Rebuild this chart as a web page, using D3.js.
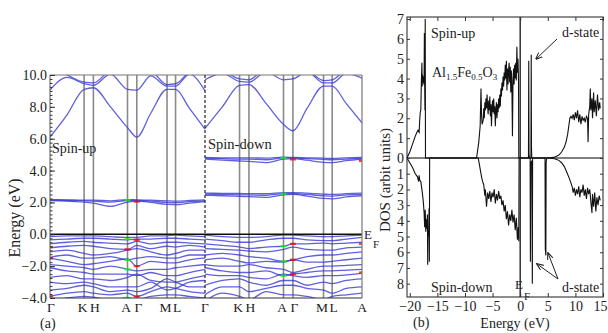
<!DOCTYPE html>
<html><head><meta charset="utf-8">
<script src="https://cdn.jsdelivr.net/npm/d3@7/dist/d3.min.js"></script>
<style>
body{margin:0;background:#fff}
svg{display:block}
text{font-family:"Liberation Serif","Times New Roman",serif;fill:#222}
</style>
</head><body>
<svg id="c" width="608" height="333"></svg>
<script>
// ---------------- DATA ----------------
// k-path sample points (fraction of each panel's path)
const kpts = [0, 0.11, 0.22, 0.28, 0.39, 0.50, 0.56, 0.65, 0.755, 0.81, 0.90, 1.0];
const symPos = [0, 0.22, 0.28, 0.50, 0.56, 0.755, 0.81, 1.0];
const symLabelsUp = ["Γ", "K", "H", "A", "Γ", "M", "L", "Γ"];
const symLabelsDown = ["", "K", "H", "A", "Γ", "M", "L", "A"];
const yTicksA = [-4, -2, 0, 2, 4, 6, 8, 10];

// Spin-up bands (eV)
const upCond = [
  [6.1, 7.5, 9.1, 9.2, 8.0, 6.7, 6.1, 7.6, 9.1, 9.1, 7.9, 6.6],
  [9.05, 9.85, 9.45, 9.35, 10.05, 9.1, 9.05, 9.95, 9.3, 9.3, 10.05, 9.0],
  [10.5, 10.0, 9.55, 9.5, 10.3, 10.5, 10.5, 10.3, 9.4, 9.45, 10.2, 10.5]
];
const upImp = [
  [2.12, 2.08, 2.02, 1.95, 1.75, 2.02, 2.08, 2.0, 1.88, 1.85, 1.95, 2.05],
  [2.15, 2.12, 2.1, 2.08, 2.02, 2.12, 2.12, 2.08, 2.0, 1.98, 2.05, 2.1],
  [2.18, 2.16, 2.14, 2.14, 2.1, 2.18, 2.16, 2.14, 2.1, 2.08, 2.12, 2.16]
];
const upVal = [
  [-0.15, -0.1, -0.1, -0.1, -0.15, -0.2, -0.2, -0.1, -0.1, -0.05, -0.1, -0.15],
  [-0.35, -0.3, -0.25, -0.25, -0.3, -0.35, -0.3, -0.3, -0.25, -0.25, -0.3, -0.35],
  [-0.6, -0.5, -0.45, -0.5, -0.55, -0.6, -0.45, -0.6, -0.5, -0.5, -0.55, -0.6],
  [-0.85, -0.75, -0.7, -0.75, -0.9, -0.95, -0.7, -0.9, -0.75, -0.8, -0.7, -0.8],
  [-1.1, -1.0, -1.2, -1.3, -1.2, -1.0, -0.9, -1.1, -1.3, -1.2, -1.0, -1.0],
  [-1.45, -1.3, -1.5, -1.5, -1.4, -1.6, -1.5, -1.4, -1.5, -1.5, -1.3, -1.3],
  [-1.5, -1.7, -1.9, -1.85, -1.7, -1.55, -2.0, -1.7, -1.8, -1.8, -1.6, -1.5],
  [-1.9, -2.0, -2.1, -2.2, -2.0, -2.2, -2.3, -2.2, -2.2, -2.1, -2.0, -1.9],
  [-2.1, -2.3, -2.4, -2.5, -2.5, -2.5, -2.6, -2.4, -2.6, -2.6, -2.4, -2.2],
  [-2.7, -2.6, -2.8, -2.8, -2.9, -2.7, -2.5, -2.9, -3.0, -3.0, -2.8, -2.6],
  [-3.0, -3.1, -3.0, -3.1, -3.3, -3.3, -3.3, -3.0, -3.5, -3.4, -3.0, -2.9],
  [-3.5, -3.4, -3.2, -3.3, -3.6, -3.5, -3.6, -3.4, -2.8, -3.0, -3.3, -3.3],
  [-3.9, -3.7, -3.6, -3.7, -3.8, -3.7, -3.9, -3.6, -3.3, -3.4, -3.6, -3.7],
  [-4.2, -4.0, -3.9, -3.95, -4.1, -4.0, -4.1, -3.9, -3.8, -3.8, -3.9, -4.0]
];

// Spin-down bands (eV)
const dnCond = [
  [6.65, 8.0, 9.35, 9.4, 8.2, 6.9, 6.5, 7.9, 9.3, 9.3, 8.2, 7.0],
  [9.7, 10.1, 9.6, 9.55, 10.2, 9.7, 9.75, 10.2, 9.5, 9.5, 10.1, 9.8],
  [10.5, 10.3, 9.75, 9.7, 10.4, 10.4, 10.4, 10.3, 9.65, 9.7, 10.3, 10.4]
];
const dnImp = [
  [4.72, 4.65, 4.6, 4.58, 4.5, 4.72, 4.75, 4.65, 4.52, 4.5, 4.62, 4.7],
  [4.78, 4.75, 4.72, 4.72, 4.68, 4.8, 4.8, 4.75, 4.7, 4.68, 4.72, 4.76],
  [4.82, 4.8, 4.8, 4.8, 4.78, 4.85, 4.82, 4.8, 4.78, 4.76, 4.8, 4.82],
  [2.45, 2.42, 2.38, 2.36, 2.32, 2.48, 2.5, 2.4, 2.25, 2.22, 2.35, 2.42],
  [2.52, 2.5, 2.48, 2.47, 2.45, 2.55, 2.56, 2.5, 2.42, 2.4, 2.47, 2.5],
  [2.58, 2.57, 2.56, 2.55, 2.55, 2.62, 2.62, 2.58, 2.52, 2.5, 2.55, 2.58]
];
const dnVal = [
  [-0.05, -0.15, -0.2, -0.2, -0.15, -0.05, -0.05, -0.1, -0.15, -0.15, -0.1, -0.05],
  [-0.3, -0.4, -0.5, -0.5, -0.35, -0.25, -0.25, -0.35, -0.4, -0.4, -0.3, -0.2],
  [-0.6, -0.7, -0.8, -0.9, -0.8, -0.75, -0.6, -0.6, -0.55, -0.6, -0.55, -0.5],
  [-0.9, -0.95, -1.0, -1.05, -1.1, -0.95, -0.8, -0.95, -1.0, -1.0, -0.85, -0.8],
  [-1.3, -1.2, -1.3, -1.4, -1.5, -1.7, -1.6, -1.4, -1.3, -1.3, -1.2, -1.1],
  [-1.6, -1.5, -1.7, -1.8, -1.7, -1.75, -1.6, -1.75, -1.75, -1.7, -1.6, -1.5],
  [-1.9, -2.0, -2.0, -1.9, -2.1, -2.2, -2.4, -2.2, -2.0, -2.0, -1.95, -1.9],
  [-2.1, -2.3, -2.4, -2.4, -2.3, -2.6, -2.5, -2.4, -2.3, -2.3, -2.25, -2.2],
  [-2.5, -2.6, -2.6, -2.7, -2.8, -2.5, -2.6, -2.7, -2.6, -2.6, -2.55, -2.45],
  [-3.2, -2.9, -2.8, -3.0, -3.2, -2.9, -2.9, -3.2, -3.0, -3.1, -2.9, -2.8],
  [-3.8, -3.3, -3.3, -3.6, -3.4, -3.2, -3.2, -3.4, -3.5, -3.7, -3.4, -3.3],
  [-4.2, -3.7, -3.9, -4.1, -3.6, -3.8, -3.8, -3.9, -4.1, -3.9, -3.8, -3.7]
];

// coloured projection markers: [k, E, colour]
const upMarks = [[0, -0.8, "red"], [0, -1.5, "red"], [0, -3.9, "red"], [0.5, -0.3, "lime"], [0.56, -0.35, "red"],
  [0.5, -0.95, "red"], [0.5, -1.6, "lime"], [0.56, -2.0, "red"], [0.5, -2.2, "lime"], [0.56, -3.9, "red"],
  [0.5, -4.0, "lime"], [0.5, 2.15, "lime"], [0.56, 2.05, "red"]];
const dnMarks = [[0.5, -0.75, "lime"], [0.56, -0.6, "red"], [0.56, -1.6, "red"], [0.5, -1.7, "lime"],
  [0.56, -2.5, "red"], [0.5, -2.6, "lime"], [1.0, -0.6, "red"], [1.0, -2.4, "red"], [0.5, 4.8, "lime"],
  [0.56, 4.7, "red"], [1.0, 4.6, "red"], [0.5, 2.55, "lime"]];

// DOS (b)
const dosXTicks = [-20, -15, -10, -5, 0, 5, 10, 15];
const dosUpTicks = [0, 1, 2, 3, 4, 5, 6, 7];
const dosDnTicks = [1, 2, 3, 4, 5, 6, 7, 8];

const dosUpE = [-20.5, -20.0, -19.5, -19.0, -18.7, -18.5, -18.3, -18.2, -18.1, -18.0, -17.9, -17.8, -17.75, -17.7, -17.6, -17.5, -17.45, -17.4, -17.35, -17.3, -17.25, -17.2, -17.15,
  -7.9, -7.5, -7.25, -7.1, -7.0, -6.9, -6.7, -6.6, -6.5, -6.4, -6.3, -6.2, -6.1, -6.0, -5.9, -5.8, -5.7, -5.6, -5.5, -5.4, -5.3, -5.2, -5.1, -5.0, -4.9, -4.8, -4.7, -4.6, -4.5, -4.4, -4.3, -4.2, -4.1, -4.0, -3.9, -3.8, -3.7, -3.6, -3.5, -3.4, -3.3, -3.2, -3.1, -3.0, -2.9, -2.8, -2.7, -2.6, -2.5, -2.4, -2.3, -2.2, -2.1, -2.0, -1.9, -1.8, -1.7, -1.6, -1.5, -1.4, -1.3, -1.2, -1.1, -1.0, -0.9, -0.8, -0.7, -0.6, -0.5, -0.4, -0.3, -0.25,
  1.5, 1.55, 1.6, 1.7, 1.95, 2.0, 2.05, 2.1,
  5.0, 6.0, 6.5, 7.0, 7.5, 8.0, 8.3, 8.6, 8.8, 9.0, 9.2, 9.4, 9.6, 9.8, 10.0, 10.2, 10.4, 10.6, 10.8, 11.0, 11.2, 11.4, 11.6, 11.8, 12.0, 12.2, 12.3, 12.4, 12.6, 12.7, 12.8, 13.0, 13.1, 13.3, 13.4, 13.6, 13.8, 14.0, 14.2, 14.4, 14.5];
const dosUpV = [0, 0.3, 0.7, 1.1, 1.3, 1.4, 1.3, 1.9, 2.3, 2.4, 3.8, 4.8, 3.6, 4.2, 3.8, 4.1, 3.7, 4.2, 6.3, 3.8, 2.4, 7.0, 0,
  0, 0.8, 1.6, 3.5, 2.2, 1.7, 1.9, 2.5, 2.0, 2.8, 2.4, 3.0, 2.5, 3.2, 2.6, 2.2, 2.9, 2.4, 3.1, 2.1, 2.7, 1.6, 2.5, 2.9, 2.3, 3.0, 2.2, 2.6, 1.6, 2.4, 2.8, 2.0, 2.7, 2.3, 3.0, 2.5, 3.2, 2.6, 3.5, 3.1, 3.8, 3.4, 4.1, 3.6, 4.3, 3.9, 4.7, 4.0, 4.9, 3.4, 4.5, 3.7, 4.4, 4.8, 3.8, 4.6, 3.3, 4.4, 3.6, 1.1, 3.9, 4.5, 3.7, 4.7, 4.0, 4.8, 3.9, 5.6, 4.3, 5.0, 3.9, 0,
  0, 4.9, 0.2, 0, 0, 5.2, 0.5, 0,
  0, 0.03, 0.08, 0.15, 0.3, 0.55, 0.8, 1.2, 1.6, 2.0, 2.1, 2.0, 2.2, 1.9, 2.3, 2.0, 2.4, 1.8, 2.2, 1.7, 2.1, 1.9, 2.0, 1.8, 2.1, 2.0, 0.8, 2.2, 2.6, 3.5, 2.4, 3.0, 2.0, 3.3, 2.3, 2.9, 2.1, 3.2, 2.4, 2.8, 2.5];

const dosDnE = [-20.5, -20.0, -19.5, -19.0, -18.6, -18.4, -18.3, -18.2, -18.0, -17.8, -17.6, -17.5, -17.4, -17.3, -17.2, -17.1, -17.0, -16.9, -16.8, -16.75, -16.7, -16.6, -16.5, -16.45, -16.4,
  -7.6, -7.3, -7.0, -6.8, -6.6, -6.4, -6.3, -6.1, -5.9, -5.7, -5.5, -5.3, -5.1, -4.9, -4.7, -4.5, -4.3, -4.1, -3.9, -3.7, -3.5, -3.3, -3.1, -2.9, -2.7, -2.5, -2.3, -2.1, -1.9, -1.7, -1.5, -1.3, -1.1, -0.9, -0.7, -0.5, -0.35, -0.25, -0.2,
  1.8, 1.85, 1.9, 2.1, 2.2, 2.25, 4.5, 4.55, 4.65, 4.7, 4.8,
  5.0, 6.0, 6.5, 7.0, 7.5, 8.0, 8.5, 8.9, 9.2, 9.4, 9.6, 9.8, 10.0, 10.2, 10.4, 10.6, 10.8, 11.0, 11.2, 11.4, 11.6, 11.8, 12.0, 12.2, 12.4, 12.6, 12.8, 13.0, 13.1, 13.3, 13.5, 13.7, 13.9, 14.1, 14.3, 14.5];
const dosDnV = [0, 0.3, 0.6, 1.0, 1.2, 1.5, 1.1, 1.4, 1.5, 2.0, 2.6, 3.0, 3.5, 4.4, 3.3, 4.7, 3.9, 4.5, 3.6, 6.8, 4.6, 5.0, 3.2, 6.6, 0,
  0, 0.6, 1.2, 1.5, 1.7, 2.4, 2.0, 3.1, 2.2, 2.6, 2.1, 2.8, 2.2, 2.5, 2.0, 2.9, 2.3, 2.7, 2.1, 2.6, 2.4, 3.0, 2.7, 3.4, 3.0, 3.9, 3.4, 4.3, 3.6, 4.0, 3.3, 4.1, 3.6, 4.6, 3.8, 5.2, 4.4, 5.3, 0,
  0, 6.6, 0.3, 0.2, 8.0, 0, 0, 5.8, 6.2, 0.3, 0,
  0, 0.03, 0.08, 0.15, 0.3, 0.55, 0.95, 1.3, 1.6, 1.8, 2.2, 1.9, 2.4, 2.0, 2.3, 1.8, 2.5, 2.0, 2.2, 1.7, 2.4, 2.0, 2.6, 1.9, 2.3, 2.0, 2.8, 3.5, 2.3, 3.1, 2.2, 3.4, 2.5, 3.0, 2.4, 2.7];

// ---------------- DRAWING ----------------
const svg = d3.select("#c");

// ======== Panel (a): band structure ========
const yA = d3.scaleLinear().domain([-4, 10]).range([298, 75]);
const xUp = d3.scaleLinear().domain([0, 1]).range([50, 205]);
const xDn = d3.scaleLinear().domain([0, 1]).range([205, 362]);

svg.append("defs").append("clipPath").attr("id", "clipA")
  .append("rect").attr("x", 50).attr("y", 75).attr("width", 312).attr("height", 223);

const gA = svg.append("g");
const plotA = gA.append("g").attr("clip-path", "url(#clipA)");

// high-symmetry verticals
[xUp, xDn].forEach(xs => {
  symPos.slice(1, 7).forEach(p => {
    plotA.append("line").attr("x1", xs(p)).attr("x2", xs(p)).attr("y1", 75).attr("y2", 298)
      .attr("stroke", "#8a8a8a").attr("stroke-width", 1.6);
  });
});

function drawBands(bands, xs) {
  const line = d3.line().x((d, i) => xs(kpts[i])).y(d => yA(d)).curve(d3.curveMonotoneX);
  bands.forEach(b => {
    plotA.append("path").attr("d", line(b)).attr("fill", "none")
      .attr("stroke", "#3838d4").attr("stroke-width", 1.3).attr("stroke-opacity", 0.8);
  });
}
drawBands(upCond, xUp); drawBands(upImp, xUp); drawBands(upVal, xUp);
drawBands(dnCond, xDn); drawBands(dnImp, xDn); drawBands(dnVal, xDn);

function drawMarks(marks, xs) {
  marks.forEach(m => {
    plotA.append("rect").attr("x", xs(m[0]) - 3).attr("y", yA(m[1]) - 1.1)
      .attr("width", 6).attr("height", 2.2).attr("fill", m[2]).attr("opacity", 0.75);
  });
}
drawMarks(upMarks, xUp); drawMarks(dnMarks, xDn);

// Fermi level
gA.append("line").attr("x1", 50).attr("x2", 362).attr("y1", yA(0)).attr("y2", yA(0))
  .attr("stroke", "#111").attr("stroke-width", 1.6);
// frame
gA.append("line").attr("x1", 50).attr("x2", 362).attr("y1", 75).attr("y2", 75).attr("stroke", "#777").attr("stroke-width", 1.2);
gA.append("line").attr("x1", 50).attr("x2", 362).attr("y1", 298).attr("y2", 298).attr("stroke", "#333").attr("stroke-width", 1.2);
gA.append("line").attr("x1", 362).attr("x2", 362).attr("y1", 75).attr("y2", 298).attr("stroke", "#777").attr("stroke-width", 1.2);
gA.append("line").attr("x1", 205).attr("x2", 205).attr("y1", 75).attr("y2", 298)
  .attr("stroke", "#222").attr("stroke-width", 1.2).attr("stroke-dasharray", "3,2");
gA.append("line").attr("x1", 50).attr("x2", 50).attr("y1", 75).attr("y2", 298).attr("stroke", "#555").attr("stroke-width", 1);

// y axis
const axA = gA.append("g").attr("transform", "translate(50,0)")
  .call(d3.axisLeft(yA).tickValues(yTicksA).tickFormat(d3.format(".1f")).tickSizeInner(-5).tickSizeOuter(0).tickPadding(3));
axA.select(".domain").remove();
axA.selectAll("text").attr("font-size", 14).attr("font-family", "Liberation Serif").attr("fill", "#222");
axA.selectAll("line").attr("stroke", "#333");
const axAm = gA.append("g").attr("transform", "translate(50,0)")
  .call(d3.axisLeft(yA).tickValues(d3.range(-4, 10.001, 0.25)).tickFormat("").tickSizeInner(-2.5).tickSizeOuter(0));
axAm.select(".domain").remove();
axAm.selectAll("line").attr("stroke", "#333");

// k labels (small nudges keep close pairs apart)
const nudge = [1, -1.5, 1.5, -1.5, 1.5, -1.5, 1.5, 0];
symPos.forEach((p, i) => {
  gA.append("text").attr("x", xUp(p) + nudge[i]).attr("y", 312).attr("text-anchor", "middle")
    .attr("font-size", 13.5).text(symLabelsUp[i]);
  if (symLabelsDown[i]) gA.append("text").attr("x", xDn(p) + nudge[i]).attr("y", 312).attr("text-anchor", "middle")
    .attr("font-size", 13.5).text(symLabelsDown[i]);
});

gA.append("text").attr("transform", "translate(20,218) rotate(-90)").attr("text-anchor", "middle")
  .attr("font-size", 16).text("Energy (eV)");
gA.append("text").attr("x", 52).attr("y", 153).attr("font-size", 14).text("Spin-up");
gA.append("text").attr("x", 208).attr("y", 149).attr("font-size", 14.5).text("Spin-down");
gA.append("text").attr("x", 364).attr("y", 239).attr("font-size", 13).text("E");
gA.append("text").attr("x", 373).attr("y", 248).attr("font-size", 11).text("F");
gA.append("text").attr("x", 40).attr("y", 328).attr("font-size", 14).text("(a)");

// ======== Panel (b): DOS ========
const xB = d3.scaleLinear().domain([-20.5, 15]).range([407, 603]);
const yUp = d3.scaleLinear().domain([0, 7.1]).range([158, 17]);
const yDn = d3.scaleLinear().domain([0, 8.85]).range([158, 297]);
const gB = svg.append("g");

gB.append("rect").attr("x", 407).attr("y", 17).attr("width", 196).attr("height", 280)
  .attr("fill", "none").attr("stroke", "#444").attr("stroke-width", 1.2);
gB.append("line").attr("x1", 407).attr("x2", 603).attr("y1", yUp(0)).attr("y2", yUp(0))
  .attr("stroke", "#555").attr("stroke-width", 1.6);
gB.append("line").attr("x1", xB(0)).attr("x2", xB(0)).attr("y1", 17).attr("y2", 297)
  .attr("stroke", "#111").attr("stroke-width", 1.3);

const lineUp = d3.line().x((d, i) => xB(dosUpE[i])).y(d => yUp(d));
const lineDn = d3.line().x((d, i) => xB(dosDnE[i])).y(d => yDn(d));
gB.append("path").attr("d", lineUp(dosUpV)).attr("fill", "none").attr("stroke", "#111").attr("stroke-width", 1.1);
gB.append("path").attr("d", lineDn(dosDnV)).attr("fill", "none").attr("stroke", "#111").attr("stroke-width", 1.1);

function styleAxis(g) {
  g.select(".domain").remove();
  g.selectAll("text").attr("font-size", 14).attr("font-family", "Liberation Serif").attr("fill", "#222");
  g.selectAll("line").attr("stroke", "#333");
  return g;
}
styleAxis(gB.append("g").attr("transform", "translate(407,0)")
  .call(d3.axisLeft(yUp).tickValues(dosUpTicks).tickFormat(d3.format("d")).tickSizeInner(-3).tickSizeOuter(0).tickPadding(3)));
styleAxis(gB.append("g").attr("transform", "translate(407,0)")
  .call(d3.axisLeft(yDn).tickValues(dosDnTicks).tickFormat(d3.format("d")).tickSizeInner(-3).tickSizeOuter(0).tickPadding(3)));
styleAxis(gB.append("g").attr("transform", "translate(603,0)")
  .call(d3.axisRight(yUp).tickValues(dosUpTicks).tickFormat("").tickSizeInner(-3).tickSizeOuter(0)));
styleAxis(gB.append("g").attr("transform", "translate(603,0)")
  .call(d3.axisRight(yDn).tickValues(dosDnTicks).tickFormat("").tickSizeInner(-3).tickSizeOuter(0)));
const axBx = styleAxis(gB.append("g").attr("transform", "translate(0,297)")
  .call(d3.axisBottom(xB).tickValues(dosXTicks).tickFormat(d3.format("d")).tickSizeInner(-4).tickSizeOuter(0).tickPadding(4)));
axBx.selectAll(".tick").filter(d => d === 15).select("text").attr("text-anchor", "end").attr("x", 4);
styleAxis(gB.append("g").attr("transform", "translate(0,17)")
  .call(d3.axisTop(xB).tickValues(dosXTicks).tickFormat("").tickSizeInner(-4).tickSizeOuter(0)));

// arrows
const defs = svg.select("defs");
defs.append("marker").attr("id", "ah").attr("viewBox", "0 0 10 10").attr("refX", 9).attr("refY", 5)
  .attr("markerWidth", 7).attr("markerHeight", 7).attr("orient", "auto")
  .append("path").attr("d", "M0,1 L10,5 L0,9").attr("fill", "none").attr("stroke", "#222").attr("stroke-width", 1.5);
function arrow(x1, y1, x2, y2) {
  gB.append("line").attr("x1", x1).attr("y1", y1).attr("x2", x2).attr("y2", y2)
    .attr("stroke", "#222").attr("stroke-width", 1).attr("marker-end", "url(#ah)");
}
arrow(557, 39, 536, 59);
arrow(558, 279, 537, 264);
arrow(558, 279, 548, 253);

gB.append("text").attr("x", 431).attr("y", 38).attr("font-size", 14).text("Spin-up");
gB.append("text").attr("x", 562).attr("y", 37).attr("font-size", 14).text("d-state");
gB.append("text").attr("x", 562).attr("y", 292).attr("font-size", 14).text("d-state");
gB.append("text").attr("x", 431).attr("y", 292).attr("font-size", 14).text("Spin-down");
const f = gB.append("text").attr("x", 432).attr("y", 77).attr("font-size", 14);
f.append("tspan").text("Al");
f.append("tspan").attr("font-size", 9).attr("dy", 3).text("1.5");
f.append("tspan").attr("dy", -3).text("Fe");
f.append("tspan").attr("font-size", 9).attr("dy", 3).text("0.5");
f.append("tspan").attr("dy", -3).text("O");
f.append("tspan").attr("font-size", 9).attr("dy", 3).text("3");
gB.append("text").attr("x", 515).attr("y", 289).attr("font-size", 13).text("E");
gB.append("text").attr("x", 524).attr("y", 300).attr("font-size", 11).text("F");
gB.append("text").attr("x", 515).attr("y", 328).attr("text-anchor", "middle").attr("font-size", 14).text("Energy (eV)");
gB.append("text").attr("x", 413).attr("y", 327).attr("font-size", 14).text("(b)");
gB.append("text").attr("transform", "translate(390,180) rotate(-90)").attr("text-anchor", "middle")
  .attr("font-size", 15).text("DOS (arbit units)");
</script>
</body></html>
